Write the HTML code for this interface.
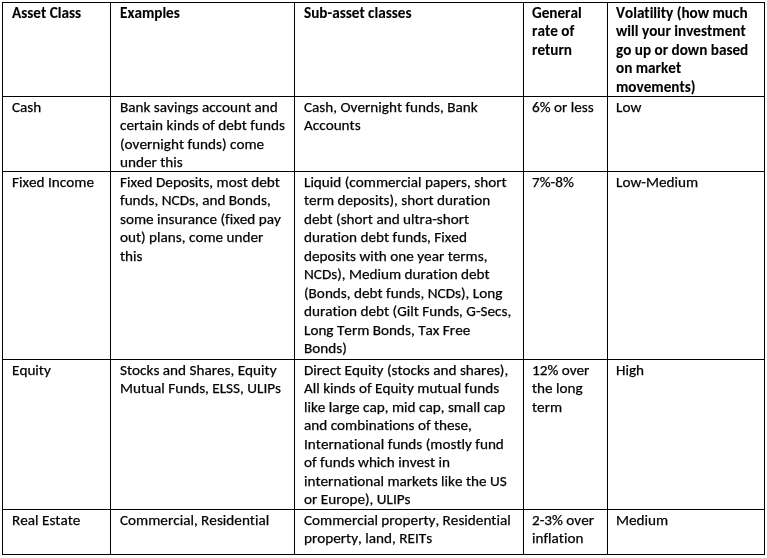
<!DOCTYPE html>
<html><head><meta charset="utf-8">
<style>
html,body{margin:0;padding:0;background:#fff;}
body{width:767px;height:558px;overflow:hidden;position:relative;font-family:Carlito,"Liberation Sans",sans-serif;font-size:15.2px;line-height:18.53px;font-kerning:none;font-variant-ligatures:none;color:#000;}
.v{position:absolute;top:2px;width:1px;height:553px;background:#000;}
.h{position:absolute;left:2px;height:1px;width:763px;background:#000;}
.c{position:absolute;white-space:nowrap;will-change:transform;-webkit-text-stroke:0.25px #000;}
.b{font-weight:bold;-webkit-text-stroke:0.1px #000;}
</style></head><body>

<div class="v" style="left:2px"></div>
<div class="v" style="left:110px"></div>
<div class="v" style="left:294px"></div>
<div class="v" style="left:523px"></div>
<div class="v" style="left:607px"></div>
<div class="v" style="left:764px"></div>
<div class="h" style="top:2px"></div>
<div class="h" style="top:96px"></div>
<div class="h" style="top:171px"></div>
<div class="h" style="top:359px"></div>
<div class="h" style="top:509px"></div>
<div class="h" style="top:554px"></div>
<div class="c b" style="left:12px;top:4px">Asset Class</div>
<div class="c b" style="left:120px;top:4px">Examples</div>
<div class="c b" style="left:304px;top:4px">Sub-asset classes</div>
<div class="c b" style="left:532.2px;top:4px">General</div>
<div class="c b" style="left:532.2px;top:22px">rate of</div>
<div class="c b" style="left:532.2px;top:41px">return</div>
<div class="c b" style="left:616.2px;top:4px">Volatility (how much</div>
<div class="c b" style="left:616.2px;top:22px">will your investment</div>
<div class="c b" style="left:616.2px;top:41px">go up or down based</div>
<div class="c b" style="left:616.2px;top:59px">on market</div>
<div class="c b" style="left:616.2px;top:78px">movements)</div>
<div class="c" style="left:12px;top:98px">Cash</div>
<div class="c" style="left:120px;top:98px">Bank savings account and</div>
<div class="c" style="left:120px;top:116px">certain kinds of debt funds</div>
<div class="c" style="left:120px;top:135px">(overnight funds) come</div>
<div class="c" style="left:120px;top:153px">under this</div>
<div class="c" style="left:304px;top:98px">Cash, Overnight funds, Bank</div>
<div class="c" style="left:304px;top:116px">Accounts</div>
<div class="c" style="left:532.2px;top:98px">6% or less</div>
<div class="c" style="left:616.2px;top:98px">Low</div>
<div class="c" style="left:12px;top:173px">Fixed Income</div>
<div class="c" style="left:120px;top:173px">Fixed Deposits, most debt</div>
<div class="c" style="left:120px;top:191px">funds, NCDs, and Bonds,</div>
<div class="c" style="left:120px;top:210px">some insurance (fixed pay</div>
<div class="c" style="left:120px;top:228px">out) plans, come under</div>
<div class="c" style="left:120px;top:247px">this</div>
<div class="c" style="left:304px;top:173px">Liquid (commercial papers, short</div>
<div class="c" style="left:304px;top:191px">term deposits), short duration</div>
<div class="c" style="left:304px;top:210px">debt (short and ultra-short</div>
<div class="c" style="left:304px;top:228px">duration debt funds, Fixed</div>
<div class="c" style="left:304px;top:247px">deposits with one year terms,</div>
<div class="c" style="left:304px;top:265px">NCDs), Medium duration debt</div>
<div class="c" style="left:304px;top:284px">(Bonds, debt funds, NCDs), Long</div>
<div class="c" style="left:304px;top:302px">duration debt (Gilt Funds, G-Secs,</div>
<div class="c" style="left:304px;top:321px">Long Term Bonds, Tax Free</div>
<div class="c" style="left:304px;top:339px">Bonds)</div>
<div class="c" style="left:532.2px;top:173px">7%-8%</div>
<div class="c" style="left:616.2px;top:173px">Low-Medium</div>
<div class="c" style="left:12px;top:361px">Equity</div>
<div class="c" style="left:120px;top:361px">Stocks and Shares, Equity</div>
<div class="c" style="left:120px;top:379px">Mutual Funds, ELSS, ULIPs</div>
<div class="c" style="left:304px;top:361px">Direct Equity (stocks and shares),</div>
<div class="c" style="left:304px;top:379px">All kinds of Equity mutual funds</div>
<div class="c" style="left:304px;top:398px">like large cap, mid cap, small cap</div>
<div class="c" style="left:304px;top:416px">and combinations of these,</div>
<div class="c" style="left:304px;top:435px">International funds (mostly fund</div>
<div class="c" style="left:304px;top:453px">of funds which invest in</div>
<div class="c" style="left:304px;top:472px">international markets like the US</div>
<div class="c" style="left:304px;top:490px">or Europe), ULIPs</div>
<div class="c" style="left:532.2px;top:361px">12% over</div>
<div class="c" style="left:532.2px;top:379px">the long</div>
<div class="c" style="left:532.2px;top:398px">term</div>
<div class="c" style="left:616.2px;top:361px">High</div>
<div class="c" style="left:12px;top:511px">Real Estate</div>
<div class="c" style="left:120px;top:511px">Commercial, Residential</div>
<div class="c" style="left:304px;top:511px">Commercial property, Residential</div>
<div class="c" style="left:304px;top:529px">property, land, REITs</div>
<div class="c" style="left:532.2px;top:511px">2-3% over</div>
<div class="c" style="left:532.2px;top:529px">inflation</div>
<div class="c" style="left:616.2px;top:511px">Medium</div>
<script>
(function(){try{var c=document.createElement('canvas').getContext('2d');var s='Bank savings account and certain kinds';
c.font='15.2px monospace';var a=c.measureText(s).width;c.font='15.2px Carlito, monospace';var b=c.measureText(s).width;
if(Math.abs(a-b)<0.01){c.font='15.2px "Liberation Sans", sans-serif';var d=c.measureText(s).width;
var fs=15.2*239.3/d;document.body.style.fontFamily='"Liberation Sans", sans-serif';document.body.style.fontSize=fs.toFixed(2)+'px';}}catch(e){}})();
</script>
</body></html>
